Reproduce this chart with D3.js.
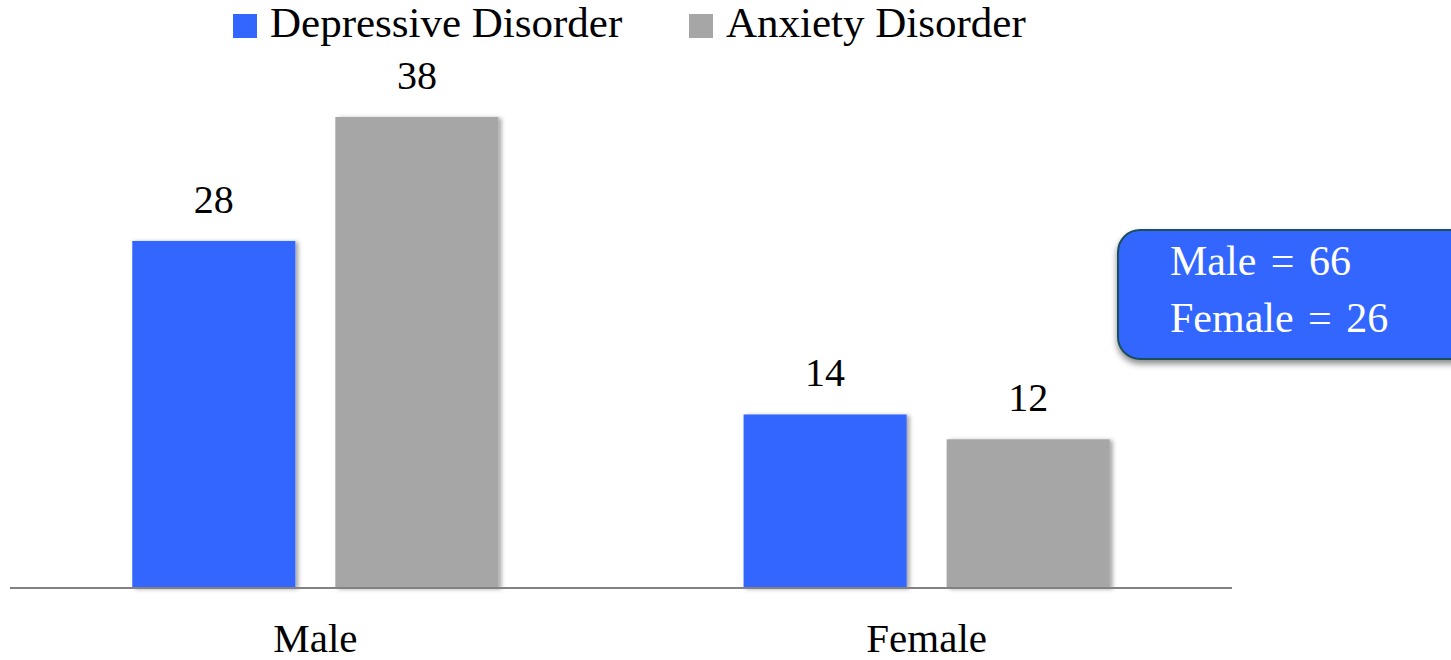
<!DOCTYPE html>
<html>
<head>
<meta charset="utf-8">
<script src="https://cdn.jsdelivr.net/npm/d3@7"></script>
<style>
  html, body { margin: 0; padding: 0; background: #fff; }
  svg { display: block; font-family: "Liberation Serif", "DejaVu Serif", serif; }
</style>
</head>
<body>
<svg id="chart" width="1451" height="660"></svg>
<script>
// Prevalence counts by sex and disorder type
const groups = ["Male", "Female"];
const series = ["Depressive Disorder", "Anxiety Disorder"];
const depressiveValues = [28, 14];
const anxietyValues = [38, 12];
const totalsLabels = ["Male = 66", "Female = 26"];
const colors = ["#3366ff", "#a6a6a6"];

const data = groups.map((g, i) => ({
  group: g,
  values: [
    { key: series[0], value: depressiveValues[i] },
    { key: series[1], value: anxietyValues[i] }
  ]
}));

const svg = d3.select("#chart");

const defs = svg.append("defs");
const barShadow = defs.append("filter").attr("id", "barShadow")
  .attr("x", "-10%").attr("y", "-10%").attr("width", "130%").attr("height", "130%");
barShadow.append("feDropShadow").attr("dx", 3).attr("dy", 1)
  .attr("stdDeviation", 2).attr("flood-color", "#000").attr("flood-opacity", 0.35);
const boxShadow = defs.append("filter").attr("id", "boxShadow")
  .attr("x", "-10%").attr("y", "-10%").attr("width", "130%").attr("height", "140%");
boxShadow.append("feDropShadow").attr("dx", 0).attr("dy", 4)
  .attr("stdDeviation", 3).attr("flood-color", "#000").attr("flood-opacity", 0.45);

const baseline = 588;
const x0 = d3.scaleBand().domain(groups).range([10, 1232])
  .paddingInner(0.401).paddingOuter(0.2);
const x1 = d3.scaleBand().domain(series).range([0, x0.bandwidth()])
  .paddingInner(0.197).paddingOuter(0);
const y = d3.scaleLinear().domain([0, 38]).range([baseline, 117]);
const color = d3.scaleOrdinal().domain(series).range(colors);

// Bars
const g = svg.append("g");
const groupSel = g.selectAll("g.group").data(data).join("g")
  .attr("class", "group")
  .attr("transform", d => `translate(${x0(d.group)},0)`);

groupSel.selectAll("rect").data(d => d.values).join("rect")
  .attr("x", d => x1(d.key))
  .attr("y", d => y(d.value))
  .attr("width", x1.bandwidth())
  .attr("height", d => y(0) - y(d.value))
  .attr("fill", d => color(d.key))
  .attr("filter", "url(#barShadow)");

groupSel.selectAll("text.value").data(d => d.values).join("text")
  .attr("class", "value")
  .attr("x", d => x1(d.key) + x1.bandwidth() / 2)
  .attr("y", d => y(d.value) - 28)
  .attr("text-anchor", "middle")
  .attr("font-size", 40)
  .attr("fill", "#000")
  .text(d => d.value);

// Baseline axis
const xAxis = d3.axisBottom(x0).tickSize(0).tickPadding(0);
const axisG = svg.append("g").attr("transform", `translate(0,${baseline})`).call(xAxis);
axisG.select(".domain").attr("stroke", "#828282").attr("stroke-width", 2)
  .attr("d", "M10,0H1232");
axisG.selectAll(".tick text")
  .attr("y", 64).attr("dy", 0)
  .attr("font-size", 41)
  .attr("font-family", "Liberation Serif, serif")
  .attr("fill", "#000");

// Legend
const legendX = [233, 689];
const legend = svg.append("g").selectAll("g").data(series).join("g")
  .attr("transform", (d, i) => `translate(${legendX[i]},0)`);
legend.append("rect").attr("x", 0).attr("y", 14).attr("width", 24).attr("height", 24)
  .attr("fill", d => color(d));
legend.append("text").attr("x", 37).attr("y", 37)
  .attr("font-size", 43).attr("fill", "#000").text(d => d);

// Totals callout
const box = svg.append("g");
box.append("rect")
  .attr("x", 1118).attr("y", 230).attr("width", 360).attr("height", 129)
  .attr("rx", 22).attr("ry", 22)
  .attr("fill", "#3366ff").attr("stroke", "#1d4f5c").attr("stroke-width", 2)
  .attr("filter", "url(#boxShadow)");
box.selectAll("text").data(totalsLabels).join("text")
  .attr("x", 1170).attr("y", (d, i) => 275 + i * 57)
  .attr("font-size", 42).attr("word-spacing", 4).attr("fill", "#fff")
  .text(d => d);
</script>
</body>
</html>
